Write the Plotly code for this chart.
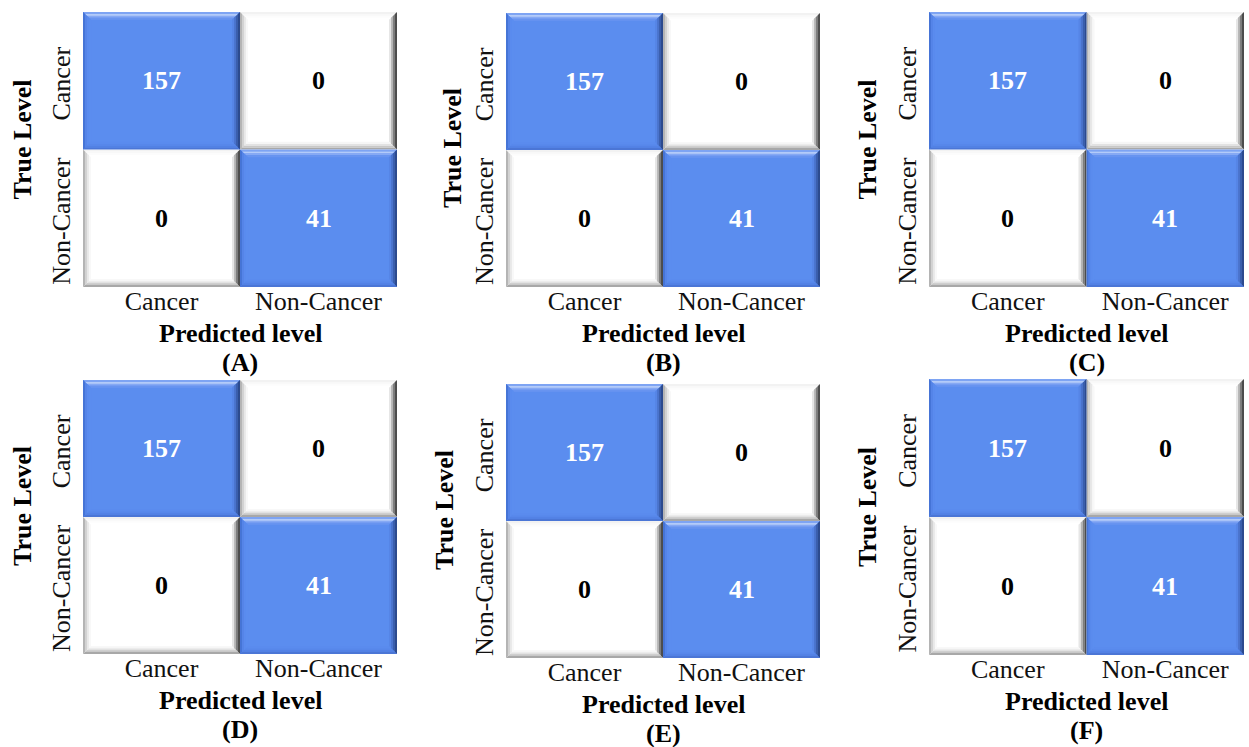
import plotly.graph_objects as go

# Class names shared by both axes
classes = ["Cancer", "Non-Cancer"]
panel_labels = ["(A)", "(B)", "(C)", "(D)", "(E)", "(F)"]

# Confusion matrices: rows = true level, columns = predicted level
cm_A = [[157, 0], [0, 41]]
cm_B = [[157, 0], [0, 41]]
cm_C = [[157, 0], [0, 41]]
cm_D = [[157, 0], [0, 41]]
cm_E = [[157, 0], [0, 41]]
cm_F = [[157, 0], [0, 41]]
matrices = [cm_A, cm_B, cm_C, cm_D, cm_E, cm_F]

W, H = 1249, 747
FONT = "Liberation Serif, Times New Roman, serif"
FS = 26
BLUE = "#5b8def"

# Plot-area boxes in pixels: (left, right, top, bottom)
boxes = [
    (83, 397, 12, 287), (506, 820, 13, 287), (929, 1244, 12, 287),
    (83, 397, 380, 654), (506, 820, 384, 658), (929, 1244, 379, 655),
]
# "True Level" title placement: (distance left of plot, vertical shift)
ytitle_pos = [(61, -10), (54, -2), (62, -10), (61, -11), (62, -11), (62, -10)]

# Bevel colour bands, outer edge first: top, left, right, bottom
bevel_blue = {
    "top": ["#7ea4f3", "#b3cbf9", "#86a9f4", "#6894f0"],
    "left": ["#4674d6", "#5584e8", "#5a8bee", "#5b8def"],
    "right": ["#2c4a8e", "#3a5eac", "#4a73cc", "#5685e6"],
    "bottom": ["#4b76d6", "#5281e4", "#5787ea", "#5a8bee"],
}
bevel_white = {
    "top": ["#f2f2f2", "#f8f8f8", "#fcfcfc", "#ffffff"],
    "left": ["#b4b4b4", "#d2d2d2", "#e8e8e8", "#f8f8f8"],
    "right": ["#4c4c4c", "#7c7c7c", "#b4b4b4", "#e6e6e6"],
    "bottom": ["#a8a8a8", "#c8c8c8", "#e2e2e2", "#f6f6f6"],
}


def band_path(side, x0, x1, y0, y1, bx, by, a, b):
    """Trapezoid of one bevel side between depths a and b (0 = outer edge)."""
    La, Ra, Ta, Ba = x0 + a * bx, x1 - a * bx, y0 + a * by, y1 - a * by
    Lb, Rb, Tb, Bb = x0 + b * bx, x1 - b * bx, y0 + b * by, y1 - b * by
    if side == "top":
        pts = [(La, Ta), (Ra, Ta), (Rb, Tb), (Lb, Tb)]
    elif side == "bottom":
        pts = [(La, Ba), (Ra, Ba), (Rb, Bb), (Lb, Bb)]
    elif side == "left":
        pts = [(La, Ta), (Lb, Tb), (Lb, Bb), (La, Ba)]
    else:
        pts = [(Ra, Ta), (Rb, Tb), (Rb, Bb), (Ra, Ba)]
    return "M" + " L".join(f"{px:.4f},{py:.4f}" for px, py in pts) + " Z"


fig = go.Figure()
shapes, annotations = [], []
zmax = max(max(max(r) for r in m) for m in matrices)

for k, (cm, box) in enumerate(zip(matrices, boxes)):
    sfx = "" if k == 0 else str(k + 1)
    xa, ya = "x" + sfx, "y" + sfx
    left, right, top, bottom = box
    idx = list(range(len(classes)))

    fig.add_trace(go.Heatmap(
        z=cm, x=idx, y=idx, xaxis=xa, yaxis=ya,
        colorscale=[[0, "white"], [0.001, BLUE], [1, BLUE]],
        zmin=0, zmax=zmax, showscale=False, hoverinfo="skip",
    ))

    fig.layout[("xaxis" + sfx)] = dict(
        domain=[left / W, right / W], anchor=ya, range=[-0.5, 1.5],
        tickvals=idx, ticktext=classes, ticks="", showgrid=False,
        zeroline=False, showline=False, fixedrange=True, ticklabelstandoff=-4,
        tickfont=dict(family=FONT, size=FS, color="#111"),
    )
    # rotated labels sit slightly low in their rows
    fig.layout[("yaxis" + sfx)] = dict(
        domain=[1 - bottom / H, 1 - top / H], anchor=xa, range=[1.5, -0.5],
        tickvals=[t + 0.05 for t in idx], ticktext=classes, ticks="", tickangle=-90,
        showgrid=False, zeroline=False, showline=False, fixedrange=True,
        ticklabelstandoff=7,
        tickfont=dict(family=FONT, size=FS, color="#111"),
    )

    # Bevelled frame around every cell, drawn as graded bands
    bx, by = 0.05, 0.055
    for i, row in enumerate(cm):
        for j, v in enumerate(row):
            x0, x1 = j - 0.5, j + 0.5
            y0, y1 = i - 0.5, i + 0.5
            bevel = bevel_blue if v > 0 else bevel_white
            for side, cols in bevel.items():
                n = len(cols)
                for b_i, col in enumerate(cols):
                    path = band_path(side, x0, x1, y0, y1, bx, by,
                                     b_i / n, (b_i + 1) / n + 0.02)
                    shapes.append(dict(type="path", path=path, xref=xa, yref=ya,
                                       fillcolor=col, line=dict(width=0), layer="above"))
            annotations.append(dict(
                x=j, y=i, xref=xa, yref=ya, text=f"<b>{v}</b>", showarrow=False,
                font=dict(family=FONT, size=FS, color="white" if v > 0 else "black"),
            ))

    cx = (left + right) / 2
    annotations.append(dict(
        x=cx / W, y=1 - (bottom + 46) / H, xref="paper", yref="paper",
        text="<b>Predicted level</b>", showarrow=False, xanchor="center", yanchor="middle",
        font=dict(family=FONT, size=FS, color="black"),
    ))
    annotations.append(dict(
        x=cx / W, y=1 - (bottom + 75) / H, xref="paper", yref="paper",
        text=f"<b>{panel_labels[k]}</b>", showarrow=False, xanchor="center", yanchor="middle",
        font=dict(family=FONT, size=FS, color="black"),
    ))
    dx, dy = ytitle_pos[k]
    annotations.append(dict(
        x=(left - dx) / W, y=1 - ((top + bottom) / 2 + dy) / H, xref="paper", yref="paper",
        text="<b>True Level</b>", showarrow=False, textangle=-90,
        xanchor="center", yanchor="middle",
        font=dict(family=FONT, size=FS, color="black"),
    ))

fig.update_layout(
    width=W, height=H, margin=dict(l=0, r=0, t=0, b=0),
    paper_bgcolor="white", plot_bgcolor="white",
    shapes=shapes, annotations=annotations, showlegend=False,
)

fig.write_html("out.html", config={"displayModeBar": False})
